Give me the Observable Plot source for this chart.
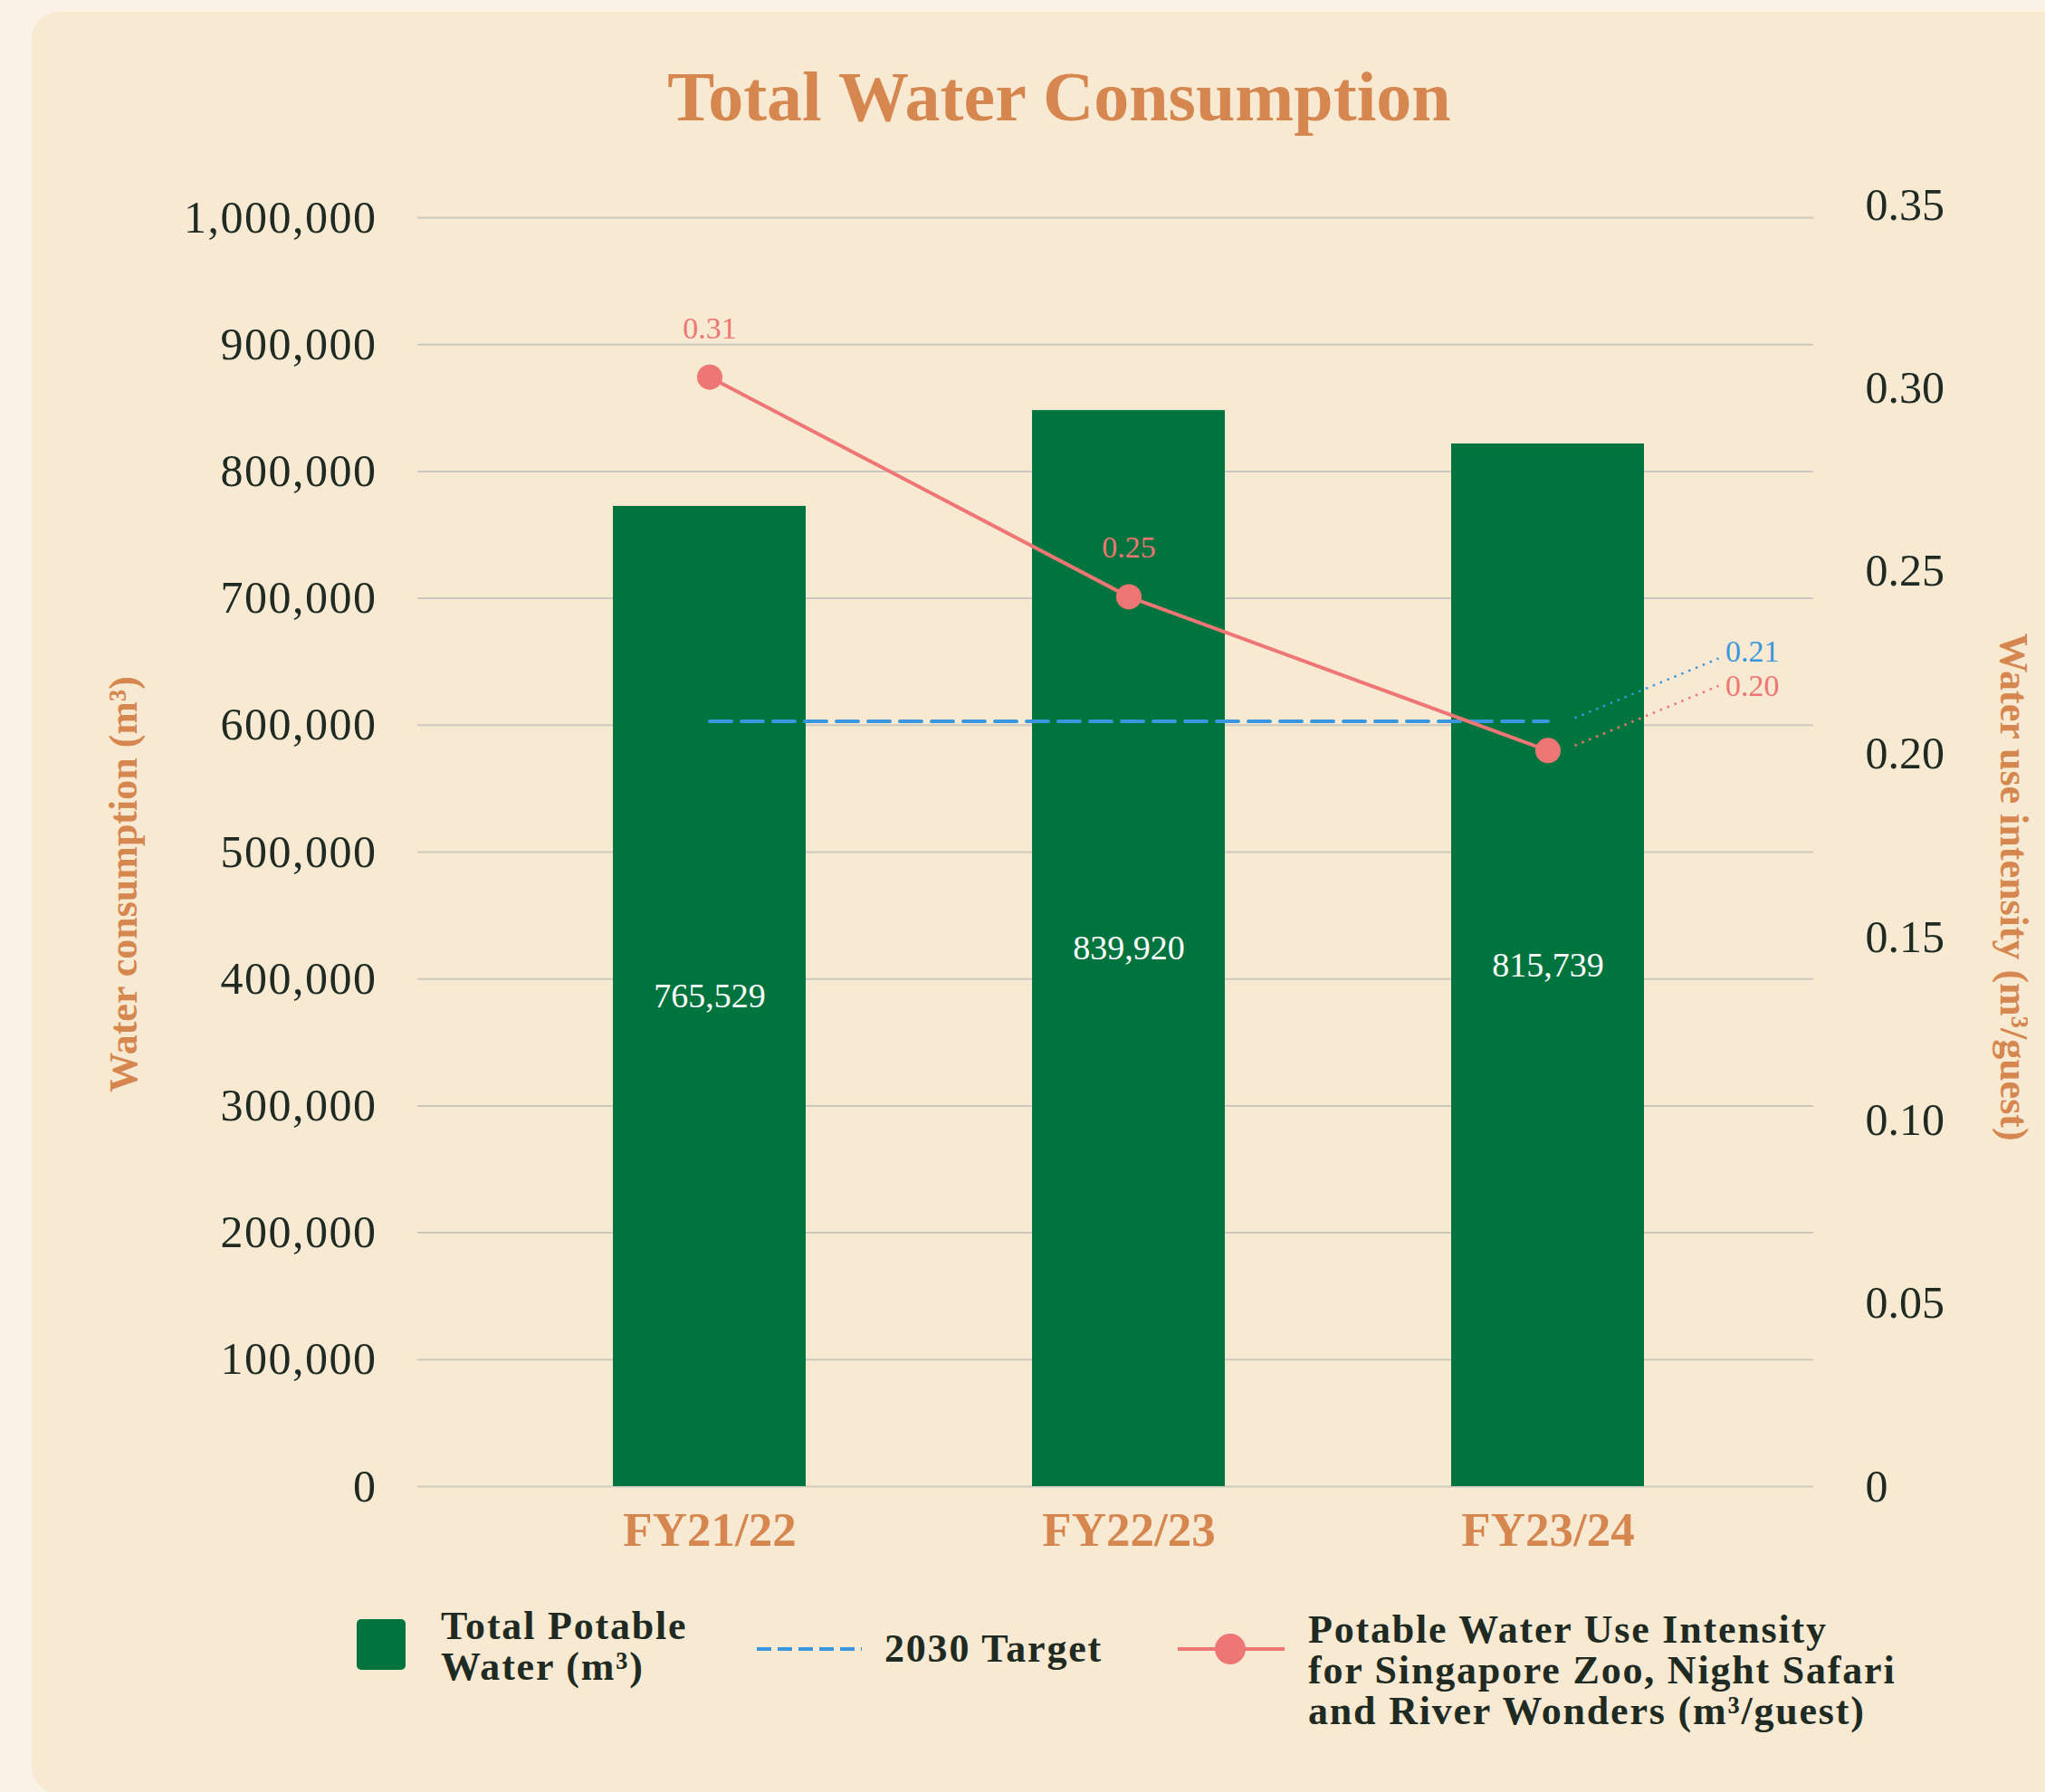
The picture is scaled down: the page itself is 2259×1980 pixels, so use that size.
<!DOCTYPE html>
<html>
<head>
<meta charset="utf-8">
<script src="https://cdn.jsdelivr.net/npm/d3@7"></script>
<script src="https://cdn.jsdelivr.net/npm/@observablehq/plot@0.6"></script>
<style>
html, body { margin: 0; padding: 0; width: 2259px; height: 1980px; overflow: hidden; background: #faf2e6; font-family: "Liberation Serif", serif; }
#card { position: absolute; left: 35px; top: 13px; width: 2300px; height: 1969px; background: #f8ead2; border-radius: 30px; }
#title { position: absolute; left: 0; width: 2340px; top: 68px; text-align: center; font-size: 78px; line-height: 78px; font-weight: bold; color: #d5874f; }
#chart { position: absolute; left: 0; top: 0; }
.axt { position: absolute; font-size: 44px; font-weight: bold; color: #d5874f; white-space: nowrap; line-height: 44px; }
.leg { position: absolute; font-size: 44px; font-weight: bold; color: #1f2a22; line-height: 45px; white-space: nowrap; letter-spacing: 1.8px; }
</style>
</head>
<body>
<div id="card"></div>
<div id="title">Total Water Consumption</div>
<div id="chart"></div>
<div class="axt" id="ytl">Water consumption (m³)</div>
<div class="axt" id="ytr">Water use intensity (m³/guest)</div>
<div id="legend"></div>
<script>
// ---- data (bar heights as drawn in the picture; labels as printed) ----
const years = ["FY21/22", "FY22/23", "FY23/24"];
const potableWater = [772500, 848000, 821700];
const potableLabels = ["765,529", "839,920", "815,739"];
const intensity = [0.303, 0.243, 0.201];
const intensityLabels = ["0.31", "0.25", "0.20"];
const target2030 = 0.209;
const targetLabel = "0.21";
const leftTicks = [0, 100000, 200000, 300000, 400000, 500000, 600000, 700000, 800000, 900000, 1000000];
const rightTicks = [0, 0.05, 0.10, 0.15, 0.20, 0.25, 0.30, 0.35];
const legendLabels = ["Total Potable<br>Water (m³)", "2030 Target", "Potable Water Use Intensity<br>for Singapore Zoo, Night Safari<br>and River Wonders (m³/guest)"];

// right-axis units expressed in left-axis units
const K = 2885700;

const rows = years.map((y, i) => ({
  year: y, water: potableWater[i], waterLabel: potableLabels[i],
  intensity: intensity[i], intensityLabel: intensityLabels[i]
}));

const GREEN = "#00743e", RED = "#ee7674", BLUE = "#3b97dd", ORANGE = "#d5874f", INK = "#1f2a22";

const chart = Plot.plot({
  width: 2259,
  height: 1760,
  marginLeft: 461,
  marginRight: 256,
  marginTop: 226,
  marginBottom: 118,
  style: { fontFamily: "Liberation Serif", background: "transparent", overflow: "visible" },
  x: { type: "band", domain: years, range: [677, 1816.5], paddingInner: 0.54, paddingOuter: 0 },
  y: { domain: [0, 0.35 * K], range: [1642, 226] },
  marks: [
    Plot.ruleY(leftTicks, { stroke: "#cbc8bf", strokeWidth: 2 }),
    Plot.barY(rows, { x: "year", y: "water", fill: GREEN }),
    Plot.text(rows, { x: "year", y: d => d.water / 2, text: "waterLabel", fill: "white", fontSize: 38 }),
    Plot.axisX({ tickSize: 0, tickPadding: 28, fontSize: 53, fontWeight: "bold", color: ORANGE, label: null }),
    Plot.axisY({ anchor: "left", ticks: leftTicks, tickFormat: d3.format(","), tickSize: 0, tickPadding: 45, fontSize: 50, color: INK, label: null }),
    Plot.axisY({ anchor: "right", ticks: rightTicks.map(v => v * K), tickFormat: d => { const v = d / K; return v < 1e-9 ? "0" : v.toFixed(2); }, tickSize: 0, tickPadding: 57, fontSize: 50, color: INK, label: null }),
    Plot.line(rows, { x: "year", y: () => target2030 * K, stroke: BLUE, strokeWidth: 4, strokeDasharray: "24,11" }),
    Plot.line(rows, { x: "year", y: d => d.intensity * K, stroke: RED, strokeWidth: 4 }),
    Plot.dot(rows, { x: "year", y: d => d.intensity * K, r: 14, fill: RED }),
    Plot.text(rows.slice(0, 2), { x: "year", y: d => d.intensity * K, text: "intensityLabel", dy: -54, fill: RED, fontSize: 34 }),
    Plot.text(rows.slice(2), { x: "year", y: d => d.intensity * K, text: "intensityLabel", dx: 196, dy: -71, textAnchor: "start", fill: RED, fontSize: 34 }),
    Plot.text(rows.slice(2), { x: "year", y: () => target2030 * K, text: () => targetLabel, dx: 196, dy: -77, textAnchor: "start", fill: BLUE, fontSize: 34 })
  ]
});
document.getElementById("chart").appendChild(chart);

// slightly wider left tick labels
chart.querySelectorAll('g[aria-label="y-axis tick label"]').forEach(g => {
  if (g.getAttribute("text-anchor") === "end") g.style.letterSpacing = "1.5px";
});

// dotted leader lines drawn from the chart's own scales
const xs = chart.scale("x"), ys = chart.scale("y");
const last = rows[rows.length - 1];
const cx = xs.apply(last.year) + xs.bandwidth / 2;
const py = ys.apply(last.intensity * K);
const ty = ys.apply(target2030 * K);
const svg = d3.select(chart);
const g = svg.append("g");
[[ty, BLUE, -3, -69], [py, RED, -5, -71]].forEach(([y0, c, d1, d2]) => {
  g.append("line").attr("x1", cx + 30).attr("y1", y0 + d1).attr("x2", cx + 189).attr("y2", y0 + d2)
    .attr("stroke", c).attr("stroke-width", 2.5).attr("stroke-dasharray", "2.5,6");
});

// axis titles
const ytl = document.getElementById("ytl");
ytl.style.left = "137px"; ytl.style.top = "977px";
ytl.style.transform = "translate(-50%,-50%) rotate(-90deg)";
const ytr = document.getElementById("ytr");
ytr.style.left = "2224px"; ytr.style.top = "980px";
ytr.style.transform = "translate(-50%,-50%) rotate(90deg)";

// legend
const lg = document.getElementById("legend");
lg.innerHTML = `
<div style="position:absolute;left:394px;top:1789px;width:54px;height:56px;background:${GREEN};border-radius:5px"></div>
<div class="leg" style="left:487px;top:1774px">${legendLabels[0]}</div>
<svg style="position:absolute;left:836px;top:1812px" width="116" height="20"><line x1="0" y1="10" x2="116" y2="10" stroke="${BLUE}" stroke-width="4" stroke-dasharray="16,7"/></svg>
<div class="leg" style="left:977px;top:1799px">${legendLabels[1]}</div>
<svg style="position:absolute;left:1301px;top:1802px" width="118" height="40"><line x1="0" y1="20" x2="118" y2="20" stroke="${RED}" stroke-width="4"/><circle cx="58" cy="20" r="17" fill="${RED}"/></svg>
<div class="leg" style="left:1445px;top:1778px">${legendLabels[2]}</div>
`;
</script>
</body>
</html>
